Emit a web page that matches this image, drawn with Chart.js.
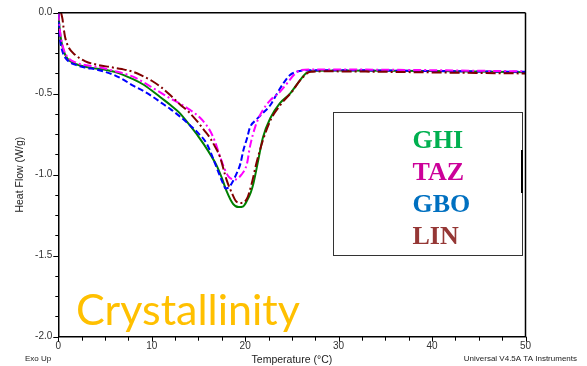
<!DOCTYPE html>
<html>
<head>
<meta charset="utf-8">
<script src="https://cdn.jsdelivr.net/npm/chart.js@4"></script>
<style>
  html, body { margin: 0; padding: 0; background: #fff; }
  #wrap { width: 587px; height: 366px; }
</style>
</head>
<body>
<div id="wrap"><canvas id="dsc" width="587" height="366"></canvas></div>
<script>
// ===== data =====
const ghiT  = [0, 0.15, 0.3, 0.6, 1, 2, 3, 4, 5, 6, 7, 8, 9, 10, 11, 12, 13, 14, 15, 16, 17, 17.5, 18, 18.7, 19.3, 19.8, 20.2, 20.6, 20.9, 21.4, 21.9, 22.7, 23.7, 24.8, 25.7, 26.6, 27.7, 30, 40, 50];
const ghiHF = [0, -0.1, -0.17, -0.24, -0.285, -0.32, -0.335, -0.345, -0.352, -0.365, -0.385, -0.41, -0.44, -0.48, -0.525, -0.57, -0.62, -0.69, -0.765, -0.85, -0.95, -1.02, -1.10, -1.18, -1.20, -1.195, -1.16, -1.11, -1.05, -0.91, -0.77, -0.65, -0.56, -0.50, -0.43, -0.37, -0.358, -0.357, -0.36, -0.367];

const tazT  = [0, 0.15, 0.3, 0.6, 1, 2, 3, 4, 5, 6, 7, 8, 9, 10, 11, 12, 13, 14.1, 15.2, 15.8, 16.3, 16.8, 17.2, 17.7, 18.2, 18.9, 19.6, 20.2, 20.5, 21.1, 21.8, 22.7, 23.7, 24.5, 25.2, 25.9, 27, 35, 50];
const tazHF = [0, -0.1, -0.16, -0.23, -0.275, -0.31, -0.325, -0.333, -0.345, -0.36, -0.375, -0.395, -0.425, -0.46, -0.495, -0.53, -0.56, -0.60, -0.65, -0.69, -0.735, -0.80, -0.87, -0.95, -1.01, -1.03, -1.00, -0.93, -0.83, -0.70, -0.61, -0.54, -0.49, -0.435, -0.385, -0.355, -0.35, -0.352, -0.362];

const gboT  = [0, 0.1, 0.25, 0.5, 1, 2, 3, 4, 5, 6, 7, 8, 9, 10, 11, 12, 13, 14, 15, 15.9, 16.5, 17.1, 17.6, 17.9, 18.3, 18.6, 19.1, 19.5, 19.8, 20.2, 20.5, 21.2, 21.9, 22.7, 23.4, 24.1, 24.8, 25.5, 26.5, 30, 40, 50];
const gboHF = [0, -0.12, -0.19, -0.25, -0.295, -0.325, -0.34, -0.35, -0.365, -0.385, -0.415, -0.45, -0.48, -0.515, -0.555, -0.595, -0.64, -0.69, -0.745, -0.81, -0.89, -0.98, -1.05, -1.085, -1.075, -1.05, -0.99, -0.93, -0.85, -0.775, -0.71, -0.66, -0.62, -0.57, -0.50, -0.435, -0.385, -0.365, -0.355, -0.355, -0.36, -0.365];

const linT  = [0.3, 0.45, 0.55, 0.72, 1.07, 1.8, 2.9, 4.3, 5.5, 6.8, 8, 9, 10, 11, 12, 13, 14, 15, 15.6, 16.2, 16.8, 17.3, 18.0, 18.6, 19.1, 19.6, 20.2, 20.7, 21.2, 21.9, 22.8, 23.9, 25.0, 25.9, 27.0, 28.5, 35, 42, 50];
const linHF = [0, -0.04, -0.086, -0.148, -0.21, -0.26, -0.30, -0.323, -0.335, -0.348, -0.365, -0.39, -0.42, -0.46, -0.51, -0.565, -0.615, -0.68, -0.725, -0.77, -0.83, -0.89, -1.03, -1.116, -1.168, -1.174, -1.147, -1.054, -0.93, -0.787, -0.653, -0.56, -0.488, -0.416, -0.365, -0.362, -0.365, -0.37, -0.375];

const xTicks = [0, 10, 20, 30, 40, 50];
const yTicks = [-2.0, -1.5, -1.0, -0.5, 0.0];
const samples = ['GHI', 'TAZ', 'GBO', 'LIN'];
const legendColors = ['#00B050', '#CC0099', '#0070C0', '#953735'];

const pts = (xs, ys) => xs.map((x, i) => ({ x: x, y: ys[i] }));

function series(label, xs, ys, color, dash) {
  return {
    label: label,
    data: pts(xs, ys),
    borderColor: color,
    borderWidth: 2,
    borderDash: dash,
    pointRadius: 0,
    cubicInterpolationMode: 'monotone',
    fill: false
  };
}

// ===== extra drawing: frame, minor ticks, titles, legend box =====
const decor = {
  id: 'decor',
  afterDraw(chart) {
    const c = chart.ctx;
    const xs = chart.scales.x, ys = chart.scales.y;
    const a = chart.chartArea;
    c.save();
    c.strokeStyle = '#000';
    c.lineWidth = 1.5;
    c.beginPath();
    c.moveTo(a.left, a.top); c.lineTo(a.right, a.top);
    c.moveTo(a.right, a.top); c.lineTo(a.right, a.bottom);
    c.stroke();

    // tick marks, minor ones included
    c.lineWidth = 1;
    c.beginPath();
    for (let v = 0; v <= 50; v += 2.5) {
      const px = Math.round(xs.getPixelForValue(v)) + 0.5;
      const len = v % 10 === 0 ? 5 : 4;
      c.moveTo(px, a.bottom); c.lineTo(px, a.bottom + len);
    }
    for (let v = -2; v <= 0.0001; v += 0.125) {
      const py = Math.round(ys.getPixelForValue(v)) + 0.5;
      const len = Math.abs(v * 2 - Math.round(v * 2)) < 1e-6 ? 5 : 3;
      c.moveTo(a.left - len, py); c.lineTo(a.left, py);
    }
    c.stroke();

    // axis titles
    c.fillStyle = '#222';
    c.font = '10.5px "Liberation Sans", Arial, sans-serif';
    c.textAlign = 'center';
    c.textBaseline = 'middle';
    c.fillText('Temperature (°C)', (a.left + a.right) / 2, 360);
    c.save();
    c.translate(20, (a.top + a.bottom) / 2);
    c.rotate(-Math.PI / 2);
    c.fillText('Heat Flow (W/g)', 0, 0);
    c.restore();

    c.font = '8px "Liberation Sans", Arial, sans-serif';
    c.textAlign = 'left';
    c.fillText('Exo Up', 25, 359);
    c.textAlign = 'right';
    c.fillText('Universal V4.5A TA Instruments', 577, 359);

    // big label
    c.fillStyle = '#FFC000';
    c.font = '43px Lato, "Open Sans", sans-serif';
    c.textAlign = 'left';
    c.textBaseline = 'alphabetic';
    c.fillText('Crystallinity', 76, 325);

    // legend box
    c.strokeStyle = '#333';
    c.lineWidth = 1;
    c.strokeRect(333.5, 112.5, 189, 143);
    c.lineWidth = 2;
    c.strokeStyle = '#000';
    c.beginPath(); c.moveTo(522, 150); c.lineTo(522, 193); c.stroke();

    c.font = 'bold 26px "Liberation Serif", "Times New Roman", serif';
    samples.forEach((s, i) => {
      c.fillStyle = legendColors[i];
      c.fillText(s, 412.5, 148 + i * 32.1);
    });
    c.restore();
  }
};

new Chart(document.getElementById('dsc'), {
  type: 'line',
  data: {
    datasets: [
      series('LIN', linT, linHF, '#800000', [10, 3, 2, 3]),
      series('TAZ', tazT, tazHF, '#FF00FF', [8, 3, 2, 3]),
      series('GBO', gboT, gboHF, '#0000FF', [6, 3]),
      series('GHI', ghiT, ghiHF, '#008000', [])
    ]
  },
  options: {
    responsive: false,
    animation: false,
    layout: { padding: { left: 0, right: 61.5, top: 12.7, bottom: 0 } },
    plugins: { legend: { display: false }, tooltip: { enabled: false } },
    scales: {
      x: {
        type: 'linear',
        min: 0, max: 50,
        afterFit: s => { s.height = 29.3; },
        afterBuildTicks: s => { s.ticks = xTicks.map(v => ({ value: v })); },
        grid: { display: false, drawTicks: false },
        border: { display: true, color: '#000', width: 1.5 },
        ticks: {
          padding: 4,
          color: '#333',
          font: { family: '"Liberation Sans", Arial, sans-serif', size: 10 }
        }
      },
      y: {
        min: -2, max: 0,
        afterFit: s => { s.width = 58.3; },
        afterBuildTicks: s => { s.ticks = yTicks.map(v => ({ value: v })); },
        grid: { display: false, drawTicks: false },
        border: { display: true, color: '#000', width: 1.5 },
        ticks: {
          padding: 6,
          color: '#333',
          font: { family: '"Liberation Sans", Arial, sans-serif', size: 10 },
          callback: v => (Math.abs(v) < 1e-9 ? 0 : v).toFixed(1)
        }
      }
    }
  },
  plugins: [decor]
});
</script>
</body>
</html>
